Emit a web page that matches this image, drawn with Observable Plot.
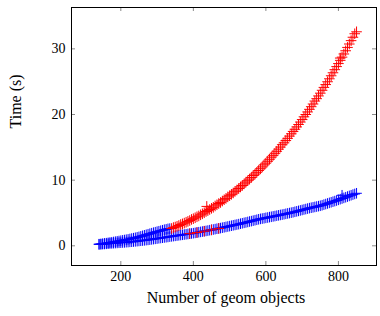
<!DOCTYPE html>
<html>
<head>
<meta charset="utf-8">
<script src="https://cdn.jsdelivr.net/npm/d3@7"></script>
<script src="https://cdn.jsdelivr.net/npm/@observablehq/plot@0.6"></script>
<style>
  html, body { margin: 0; padding: 0; background: #fff; }
  #chart svg { display: block; }
</style>
</head>
<body>
<div id="chart"></div>
<script>
// Red series (fast-growing branch) + a few scattered red points
const redX = [340,345,350,355,360,365,370,375,380,385,390,395,400,405,410,415,420,425,430,435,440,445,450,455,460,465,470,475,480,485,490,495,500,505,510,515,520,525,530,535,540,545,550,555,560,565,570,575,580,585,590,595,600,605,610,615,620,625,630,635,640,645,650,655,660,665,670,675,680,685,690,695,700,705,710,715,720,725,730,735,740,745,750,755,760,765,770,775,780,785,790,795,800,805,810,815,820,825,830,835,840,845,850,
  390,410,430,450,470,437,805];
const redY = [2.64,2.78,2.86,2.97,3.09,3.24,3.34,3.46,3.59,3.72,3.85,4.02,4.13,4.27,4.42,4.55,4.72,4.87,5.03,5.22,5.36,5.53,5.71,5.86,6.07,6.25,6.44,6.60,6.82,7.02,7.22,7.45,7.63,7.84,8.05,8.30,8.50,8.73,8.96,9.19,9.43,9.70,9.91,10.16,10.41,10.70,10.93,11.20,11.47,11.74,12.02,12.33,12.59,12.88,13.18,13.50,13.78,14.09,14.40,14.72,15.04,15.40,15.69,16.03,16.37,16.71,17.06,17.42,17.75,18.11,18.48,18.85,19.23,19.65,20.00,20.39,20.79,21.19,21.60,22.05,22.41,22.83,23.25,23.69,24.13,24.56,24.99,25.44,25.90,26.36,26.83,27.30,27.76,28.25,28.74,29.22,29.71,30.22,30.74,31.25,31.77,32.30,32.60,
  1.85,2.02,2.22,2.43,2.65,6.0,28.6];
// Blue series: lower branch, then the early part of the upper branch
const blueX = [140,145,150,155,160,165,170,175,180,185,190,195,200,205,210,215,220,225,230,235,240,245,250,255,260,265,270,275,280,285,290,295,300,305,310,315,320,325,330,335,340,345,350,355,360,365,370,375,380,385,390,395,400,405,410,415,420,425,430,435,440,445,450,455,460,465,470,475,480,485,490,495,500,505,510,515,520,525,530,535,540,545,550,555,560,565,570,575,580,585,590,595,600,605,610,615,620,625,630,635,640,645,650,655,660,665,670,675,680,685,690,695,700,705,710,715,720,725,730,735,740,745,750,755,760,765,770,775,780,785,790,795,800,805,810,815,820,825,830,835,840,845,850,
  140,145,150,155,160,165,170,175,180,185,190,195,200,205,210,215,220,225,230,235,240,245,250,255,260,265,270,275,280,285,290,295,300,305,310,315,320,325,330,335,810];
const blueY = [0.22,0.24,0.26,0.28,0.30,0.32,0.35,0.37,0.40,0.42,0.44,0.46,0.48,0.50,0.52,0.55,0.57,0.60,0.62,0.65,0.68,0.71,0.74,0.77,0.80,0.83,0.87,0.90,0.94,0.98,1.02,1.06,1.10,1.15,1.19,1.23,1.27,1.31,1.35,1.40,1.44,1.48,1.52,1.56,1.60,1.64,1.68,1.72,1.76,1.80,1.84,1.88,1.92,1.97,2.02,2.07,2.12,2.17,2.22,2.27,2.32,2.38,2.43,2.48,2.54,2.60,2.65,2.70,2.76,2.82,2.88,2.94,3.00,3.06,3.12,3.18,3.24,3.30,3.37,3.43,3.50,3.56,3.63,3.70,3.76,3.83,3.90,3.97,4.04,4.10,4.15,4.20,4.26,4.31,4.37,4.42,4.48,4.53,4.59,4.64,4.70,4.75,4.81,4.87,4.93,4.99,5.05,5.11,5.18,5.25,5.32,5.39,5.46,5.53,5.60,5.67,5.74,5.80,5.86,5.92,5.98,6.04,6.10,6.18,6.27,6.36,6.45,6.54,6.63,6.72,6.81,6.90,7.00,7.10,7.20,7.30,7.40,7.50,7.60,7.70,7.80,7.90,8.00,
  0.25,0.28,0.32,0.36,0.40,0.45,0.50,0.54,0.58,0.63,0.68,0.73,0.78,0.83,0.88,0.93,0.98,1.04,1.10,1.16,1.22,1.29,1.36,1.44,1.52,1.60,1.68,1.76,1.84,1.92,2.00,2.07,2.15,2.22,2.30,2.37,2.45,2.51,2.58,2.62,7.7];
const xTicks = [200, 400, 600, 800];
const yTicks = [0, 10, 20, 30];
const xLabel = "Number of geom objects";
const yLabel = "Time (s)";

const red = redX.map((x, i) => ({x, y: redY[i]}));
const blue = blueX.map((x, i) => ({x, y: blueY[i]}));

const W = 380, H = 316;
const mL = 71, mR = 4, mT = 7, mB = 51;
const innerW = W - mL - mR, innerH = H - mT - mB;
const tickLen = 4;
const tickColor = "#8a8a8a";

const chart = Plot.plot({
  width: W,
  height: H,
  marginLeft: mL,
  marginRight: mR,
  marginTop: mT,
  marginBottom: mB,
  style: {fontFamily: "'Liberation Serif', 'DejaVu Serif', serif", fontSize: "14px", color: "black", background: "white"},
  x: {domain: [64, 905]},
  y: {domain: [-3.0, 36.3]},
  marks: [
    Plot.tickX(xTicks, {x: d => d, insetTop: innerH - tickLen, stroke: tickColor}),
    Plot.tickX(xTicks, {x: d => d, insetBottom: innerH - tickLen, stroke: tickColor}),
    Plot.tickY(yTicks, {y: d => d, insetRight: innerW - tickLen, stroke: tickColor}),
    Plot.tickY(yTicks, {y: d => d, insetLeft: innerW - tickLen, stroke: tickColor}),
    Plot.axisX(xTicks, {tickSize: 0, tickPadding: 6, label: null, fontSize: 14}),
    Plot.axisY(yTicks, {tickSize: 0, tickPadding: 6, label: null, fontSize: 14}),
    Plot.dot(blue, {x: "x", y: "y", symbol: "plus", r: 3.5, stroke: "#0000ff", strokeWidth: 1}),
    Plot.dot(red, {x: "x", y: "y", symbol: "plus", r: 3.5, stroke: "#ff0000", strokeWidth: 1}),
    Plot.frame({stroke: "black", strokeWidth: 1}),
    Plot.text([xLabel], {frameAnchor: "bottom", dx: 2, dy: 37, fontSize: 16}),
    Plot.text([yLabel], {frameAnchor: "left", dx: -56, dy: -8, rotate: -90, fontSize: 16})
  ]
});
document.getElementById("chart").appendChild(chart);
</script>
</body>
</html>
